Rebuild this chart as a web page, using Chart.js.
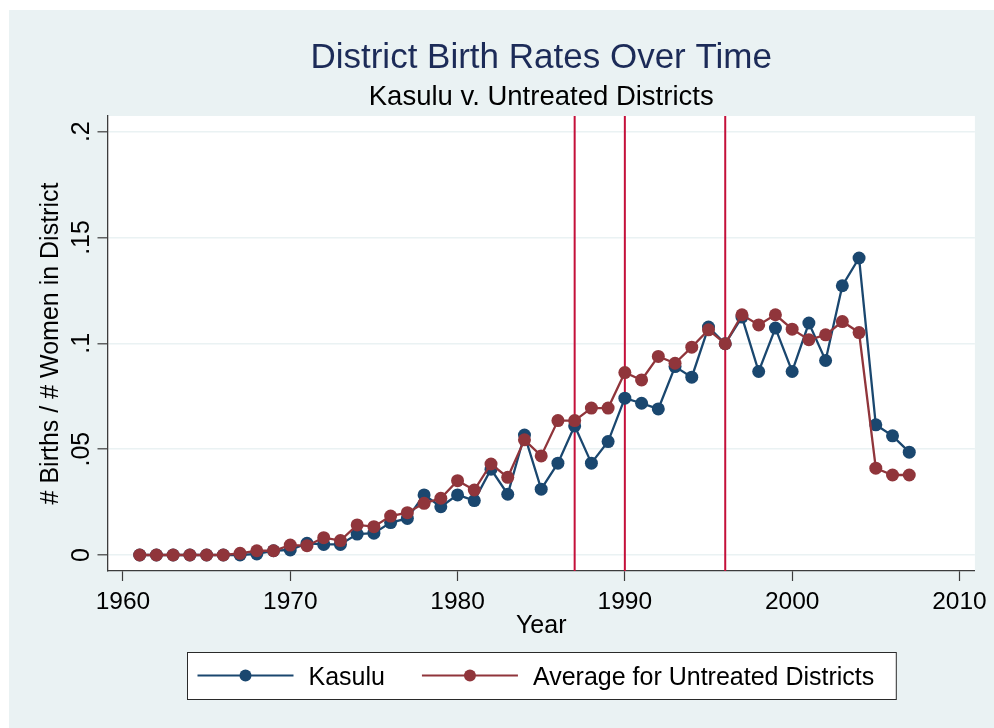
<!DOCTYPE html>
<html>
<head>
<meta charset="utf-8">
<script src="https://cdn.jsdelivr.net/npm/chart.js@4/dist/chart.umd.min.js"></script>
<style>
html,body{margin:0;padding:0;background:#ffffff;}
#wrap{width:994px;height:728px;position:relative;}
canvas{display:block;}
</style>
</head>
<body>
<div id="wrap"><canvas id="c" width="994" height="728"></canvas></div>
<script>
// ---------- data ----------
const years = [1961,1962,1963,1964,1965,1966,1967,1968,1969,1970,
               1971,1972,1973,1974,1975,1976,1977,1978,1979,1980,
               1981,1982,1983,1984,1985,1986,1987,1988,1989,1990,
               1991,1992,1993,1994,1995,1996,1997,1998,1999,2000,
               2001,2002,2003,2004,2005,2006,2007];
const kasulu = [0,0,0,0,0,0,0,0.0005,0.002,0.0024,
                0.0055,0.005,0.005,0.0099,0.0103,0.0153,0.0173,0.0284,0.0228,0.0284,
                0.0257,0.0405,0.0287,0.0567,0.0311,0.0434,0.0610,0.0434,0.0536,0.0741,
                0.0717,0.0690,0.0890,0.0840,0.1077,0.0998,0.1124,0.0867,0.1072,0.0867,
                0.1096,0.0919,0.1272,0.1403,0.0615,0.0563,0.0486];
const untreated = [0,0,0,0,0,0,0.0008,0.002,0.002,0.0047,
                   0.0044,0.0082,0.0068,0.0142,0.0134,0.0184,0.0200,0.0244,0.0268,0.0351,
                   0.0307,0.0430,0.0367,0.0544,0.0468,0.0635,0.0635,0.0694,0.0694,0.0862,
                   0.0827,0.0938,0.0906,0.0982,0.1064,0.0998,0.1135,0.1087,0.1135,0.1067,
                   0.1017,0.1040,0.1103,0.1051,0.0410,0.0378,0.0378];
const seriesNames = ['Kasulu', 'Average for Untreated Districts'];
const xTicks = [1960, 1970, 1980, 1990, 2000, 2010];
const yTicks = [0, 0.05, 0.1, 0.15, 0.2];
const yTickLabels = ['0', '.05', '.1', '.15', '.2'];
const eventYears = [1987, 1990, 1996];
const titleText = 'District Birth Rates Over Time';
const subtitleText = 'Kasulu v. Untreated Districts';
const xTitleText = 'Year';
const yTitleText = '# Births / # Women in District';

// ---------- styles ----------
const FONT = '"Liberation Sans", Arial, Helvetica, sans-serif';
const BLUE = '#1a476f';
const RED = '#90353b';
const EVENT = '#c4103a';
const BG = '#eaf2f3';
const AXIS = '#3c3c3c';

Chart.defaults.font.family = FONT;

const bgPlugin = {
  id: 'bg',
  beforeDraw(chart) {
    const {ctx, chartArea: a} = chart;
    ctx.save();
    ctx.fillStyle = '#ffffff';
    ctx.fillRect(0, 0, chart.width, chart.height);
    ctx.fillStyle = BG;
    ctx.fillRect(9, 10, chart.width - 9, chart.height - 10);
    ctx.fillStyle = '#ffffff';
    ctx.fillRect(a.left, a.top, a.right - a.left, a.bottom - a.top);
    ctx.restore();
  }
};

const eventPlugin = {
  id: 'events',
  beforeDatasetsDraw(chart) {
    const {ctx, chartArea: a, scales: {x}} = chart;
    ctx.save();
    ctx.strokeStyle = EVENT;
    ctx.lineWidth = 2;
    eventYears.forEach(yr => {
      const px = x.getPixelForValue(yr);
      ctx.beginPath();
      ctx.moveTo(px, a.top);
      ctx.lineTo(px, a.bottom);
      ctx.stroke();
    });
    ctx.restore();
  }
};

const textPlugin = {
  id: 'texts',
  afterDraw(chart) {
    const {ctx, chartArea: a, scales: {y}} = chart;
    const cx = (a.left + a.right) / 2;
    ctx.save();
    // titles
    ctx.textAlign = 'center';
    ctx.textBaseline = 'alphabetic';
    ctx.fillStyle = '#1c2b58';
    ctx.font = '35px ' + FONT;
    ctx.fillText(titleText, cx, 67.5);
    ctx.fillStyle = '#000000';
    ctx.font = '27.5px ' + FONT;
    ctx.fillText(subtitleText, cx, 105);
    // y tick labels (rotated, Stata style)
    ctx.font = '25px ' + FONT;
    yTicks.forEach((v, i) => {
      const py = y.getPixelForValue(v);
      ctx.save();
      ctx.translate(88.5, py);
      ctx.rotate(-Math.PI / 2);
      ctx.textAlign = 'center';
      ctx.textBaseline = 'alphabetic';
      ctx.fillText(yTickLabels[i], 0, 0);
      ctx.restore();
    });
    // legend
    ctx.font = '25px ' + FONT;
    const w1 = ctx.measureText(seriesNames[0]).width;
    const w2 = ctx.measureText(seriesNames[1]).width;
    const lineLen = 96, gapT = 15, gapItem = 37, padL = 10, padR = 22;
    const total = padL + lineLen + gapT + w1 + gapItem + lineLen + gapT + w2 + padR;
    const bx = Math.round(cx - total / 2) + 0.5;
    const by = 652.5, bh = 47;
    ctx.fillStyle = '#ffffff';
    ctx.fillRect(bx, by, total, bh);
    ctx.strokeStyle = '#2a2a2a';
    ctx.lineWidth = 1;
    ctx.strokeRect(bx, by, total, bh);
    const ly = 675.5;
    const items = [
      {c: BLUE, t: seriesNames[0], w: w1},
      {c: RED, t: seriesNames[1], w: w2}
    ];
    let xx = bx + padL;
    items.forEach((it) => {
      ctx.strokeStyle = it.c;
      ctx.lineWidth = 2;
      ctx.beginPath();
      ctx.moveTo(xx, ly);
      ctx.lineTo(xx + lineLen, ly);
      ctx.stroke();
      ctx.fillStyle = it.c;
      ctx.beginPath();
      ctx.arc(xx + lineLen / 2, ly, 6, 0, Math.PI * 2);
      ctx.fill();
      xx += lineLen + gapT;
      ctx.fillStyle = '#000000';
      ctx.textAlign = 'left';
      ctx.textBaseline = 'alphabetic';
      ctx.fillText(it.t, xx, 685);
      xx += it.w + gapItem;
    });
    ctx.restore();
  }
};

const ctx = document.getElementById('c').getContext('2d');
new Chart(ctx, {
  type: 'line',
  data: {
    datasets: [
      {
        label: seriesNames[0],
        data: years.map((yr, i) => ({x: yr, y: kasulu[i]})),
        borderColor: BLUE,
        backgroundColor: BLUE,
        pointBackgroundColor: BLUE,
        pointBorderWidth: 0,
        pointRadius: 6.5,
        borderWidth: 2.3,
        tension: 0,
        order: 1
      },
      {
        label: seriesNames[1],
        data: years.map((yr, i) => ({x: yr, y: untreated[i]})),
        borderColor: RED,
        backgroundColor: RED,
        pointBackgroundColor: RED,
        pointBorderWidth: 0,
        pointRadius: 6.5,
        borderWidth: 2.3,
        tension: 0,
        order: 0
      }
    ]
  },
  options: {
    responsive: false,
    animation: false,
    devicePixelRatio: 1,
    layout: {padding: {left: 0, top: 116, right: 17, bottom: 87}},
    plugins: {
      legend: {display: false},
      title: {display: false},
      tooltip: {enabled: false}
    },
    scales: {
      x: {
        type: 'linear',
        min: 1959.076,
        max: 2010.924,
        afterBuildTicks: (s) => { s.ticks = xTicks.map(v => ({value: v})); },
        afterFit: (s) => { s.height = 70; },
        grid: {drawOnChartArea: false, drawTicks: true, tickLength: 10, tickColor: AXIS, tickWidth: 1.2},
        border: {display: true, color: AXIS, width: 1.3},
        ticks: {
          color: '#000000',
          font: {size: 24.5, family: FONT},
          padding: 7,
          maxRotation: 0,
          autoSkip: false,
          callback: (v) => String(v)
        },
        title: {
          display: true,
          text: xTitleText,
          color: '#000000',
          font: {size: 25, family: FONT},
          padding: {top: 0, bottom: 0}
        }
      },
      y: {
        type: 'linear',
        min: -0.00756,
        max: 0.2074,
        afterBuildTicks: (s) => { s.ticks = yTicks.map(v => ({value: v})); },
        afterFit: (s) => { s.width = 107.5; },
        grid: {color: BG, lineWidth: 1.6, drawTicks: true, tickLength: 10, tickColor: AXIS, tickWidth: 1.2},
        border: {display: true, color: AXIS, width: 1.3},
        ticks: {display: false},
        title: {
          display: true,
          text: yTitleText,
          color: '#000000',
          font: {size: 25, family: FONT},
          padding: {top: 36, bottom: 0}
        }
      }
    }
  },
  plugins: [bgPlugin, eventPlugin, textPlugin]
});
</script>
</body>
</html>
